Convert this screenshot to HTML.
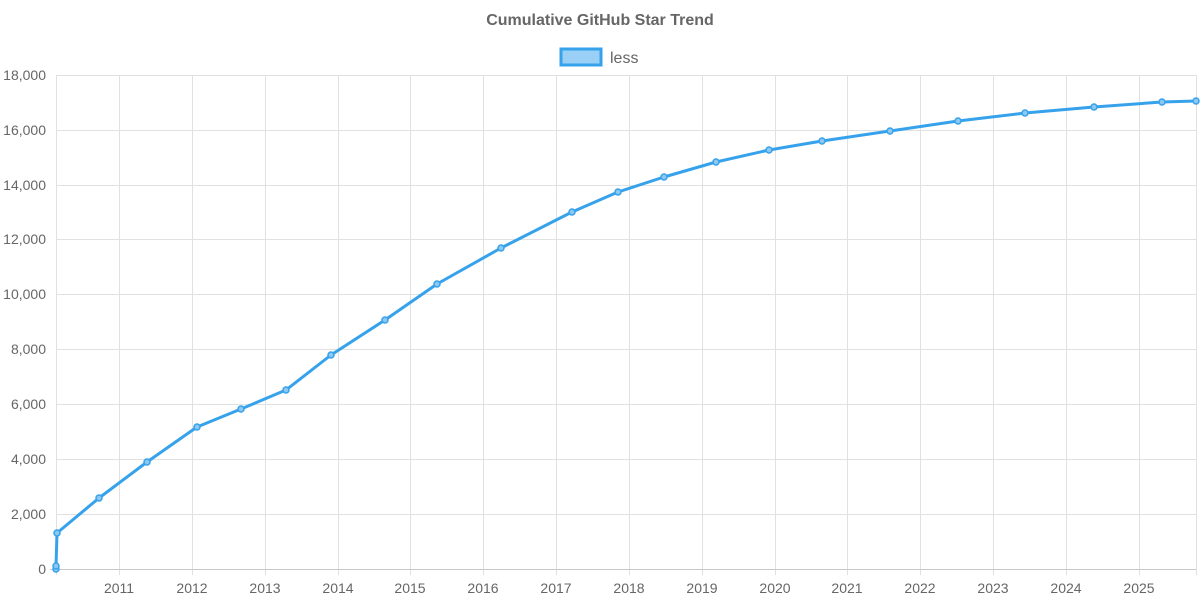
<!DOCTYPE html>
<html><head><style>body{margin:0;background:#fff}svg{display:block;font-family:"Liberation Sans",sans-serif}</style></head>
<body>
<svg width="1200" height="600" viewBox="0 0 1200 600">
<text x="600" y="25" text-anchor="middle" font-size="16" font-weight="bold" fill="#666">Cumulative GitHub Star Trend</text>
<rect x="561" y="49" width="40" height="16" fill="#9ad0f5" stroke="#36a2eb" stroke-width="3"/>
<text x="610" y="63" font-size="16" fill="#666">less</text>
<g stroke="#e1e1e1" stroke-width="1">
<line x1="56" y1="75.5" x2="1196" y2="75.5"/><line x1="56" y1="130.5" x2="1196" y2="130.5"/><line x1="56" y1="185.5" x2="1196" y2="185.5"/><line x1="56" y1="239.5" x2="1196" y2="239.5"/><line x1="56" y1="294.5" x2="1196" y2="294.5"/><line x1="56" y1="349.5" x2="1196" y2="349.5"/><line x1="56" y1="404.5" x2="1196" y2="404.5"/><line x1="56" y1="459.5" x2="1196" y2="459.5"/><line x1="56" y1="514.5" x2="1196" y2="514.5"/>
<line x1="56.5" y1="75" x2="56.5" y2="575"/>
<line x1="119.5" y1="75" x2="119.5" y2="575"/><line x1="192.5" y1="75" x2="192.5" y2="575"/><line x1="265.5" y1="75" x2="265.5" y2="575"/><line x1="338.5" y1="75" x2="338.5" y2="575"/><line x1="410.5" y1="75" x2="410.5" y2="575"/><line x1="483.5" y1="75" x2="483.5" y2="575"/><line x1="556.5" y1="75" x2="556.5" y2="575"/><line x1="629.5" y1="75" x2="629.5" y2="575"/><line x1="702.5" y1="75" x2="702.5" y2="575"/><line x1="775.5" y1="75" x2="775.5" y2="575"/><line x1="847.5" y1="75" x2="847.5" y2="575"/><line x1="920.5" y1="75" x2="920.5" y2="575"/><line x1="993.5" y1="75" x2="993.5" y2="575"/><line x1="1066.5" y1="75" x2="1066.5" y2="575"/><line x1="1139.5" y1="75" x2="1139.5" y2="575"/><line x1="1196.5" y1="75" x2="1196.5" y2="575"/>
</g>
<line x1="50" y1="569.5" x2="1196" y2="569.5" stroke="#c8c8c8"/>
<g font-size="14" fill="#666" text-anchor="end">
<text x="46" y="80">18,000</text><text x="46" y="135">16,000</text><text x="46" y="190">14,000</text><text x="46" y="244">12,000</text><text x="46" y="299">10,000</text><text x="46" y="354">8,000</text><text x="46" y="409">6,000</text><text x="46" y="464">4,000</text><text x="46" y="519">2,000</text><text x="46" y="574">0</text>
</g>
<g font-size="14" fill="#666" text-anchor="middle">
<text x="119" y="593">2011</text><text x="192" y="593">2012</text><text x="265" y="593">2013</text><text x="338" y="593">2014</text><text x="410" y="593">2015</text><text x="483" y="593">2016</text><text x="556" y="593">2017</text><text x="629" y="593">2018</text><text x="702" y="593">2019</text><text x="775" y="593">2020</text><text x="847" y="593">2021</text><text x="920" y="593">2022</text><text x="993" y="593">2023</text><text x="1066" y="593">2024</text><text x="1139" y="593">2025</text>
</g>
<polyline fill="none" stroke="#36a2eb" stroke-width="3" stroke-linejoin="round" points="56,569 56,566 57,533 99,498 147,462 197,427 241,409 286,390 331,355 385,320 437,284 501,248 572,212 618,192 664,177 716,162 769,150 822,141 890,131 958,121 1025,113 1094,107 1162,102 1196,101"/>
<g fill="#8cc8f2" stroke="#36a2eb" stroke-width="1.5">
<circle cx="56" cy="569" r="3"/><circle cx="56" cy="566" r="3"/><circle cx="57" cy="533" r="3"/><circle cx="99" cy="498" r="3"/><circle cx="147" cy="462" r="3"/><circle cx="197" cy="427" r="3"/><circle cx="241" cy="409" r="3"/><circle cx="286" cy="390" r="3"/><circle cx="331" cy="355" r="3"/><circle cx="385" cy="320" r="3"/><circle cx="437" cy="284" r="3"/><circle cx="501" cy="248" r="3"/><circle cx="572" cy="212" r="3"/><circle cx="618" cy="192" r="3"/><circle cx="664" cy="177" r="3"/><circle cx="716" cy="162" r="3"/><circle cx="769" cy="150" r="3"/><circle cx="822" cy="141" r="3"/><circle cx="890" cy="131" r="3"/><circle cx="958" cy="121" r="3"/><circle cx="1025" cy="113" r="3"/><circle cx="1094" cy="107" r="3"/><circle cx="1162" cy="102" r="3"/><circle cx="1196" cy="101" r="3"/>
</g>
</svg>
</body></html>
